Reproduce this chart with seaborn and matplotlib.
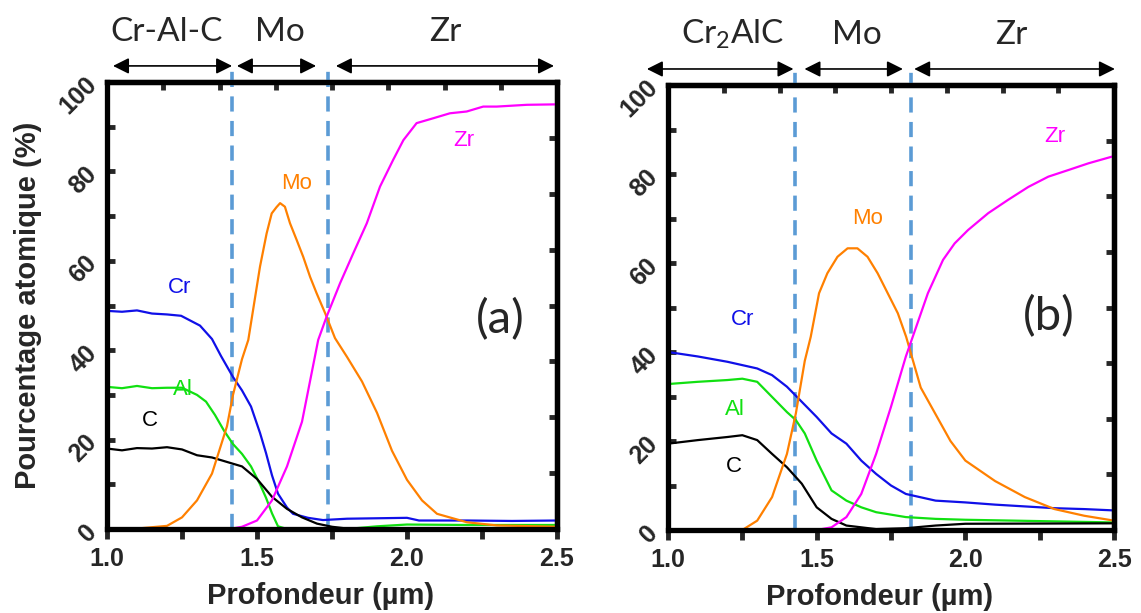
import numpy as np
import pandas as pd
import matplotlib.pyplot as plt
import seaborn as sns

# ---- panel (a) : Cr-Al-C / Mo / Zr ----
a_cr_x = [1.0, 1.05, 1.1, 1.15, 1.2, 1.247, 1.31, 1.35, 1.38, 1.42, 1.45, 1.48, 1.51, 1.53, 1.55, 1.57, 1.6, 1.62, 1.67, 1.72, 1.8, 1.9, 2.0, 2.04, 2.2, 2.35, 2.5]
a_cr_y = [48.8, 48.6, 48.9, 48.2, 48.0, 47.7, 45.5, 42.5, 38.7, 34.0, 31.0, 27.4, 21.5, 17.0, 12.0, 7.9, 4.8, 3.4, 2.5, 2.0, 2.3, 2.4, 2.5, 1.9, 1.9, 1.8, 1.9]
a_al_x = [1.0, 1.05, 1.1, 1.15, 1.2, 1.25, 1.3, 1.33, 1.36, 1.39, 1.42, 1.45, 1.48, 1.51, 1.53, 1.55, 1.57, 1.6, 1.8, 1.9, 2.0, 2.2, 2.5]
a_al_y = [31.8, 31.5, 32.0, 31.5, 31.6, 31.6, 30.0, 28.5, 25.5, 22.0, 19.0, 16.8, 14.0, 10.0, 7.0, 3.5, 0.6, 0.0, 0.0, 0.6, 1.0, 0.9, 0.9]
a_c_x = [1.0, 1.05, 1.1, 1.15, 1.2, 1.25, 1.3, 1.35, 1.4, 1.45, 1.5, 1.55, 1.6, 1.65, 1.7, 1.75, 1.8, 2.0, 2.5]
a_c_y = [18.0, 17.6, 18.1, 18.0, 18.3, 17.8, 16.5, 16.0, 15.0, 14.0, 11.2, 7.2, 4.5, 2.6, 1.2, 0.5, 0.1, 0.1, 0.2]
a_mo_x = [1.0, 1.1, 1.2, 1.25, 1.3, 1.35, 1.4, 1.42, 1.45, 1.471, 1.51, 1.532, 1.549, 1.565, 1.577, 1.593, 1.61, 1.632, 1.654, 1.677, 1.699, 1.727, 1.76, 1.8, 1.85, 1.9, 1.95, 2.0, 2.05, 2.1, 2.2, 2.3, 2.5]
a_mo_y = [0.0, 0.1, 0.7, 2.6, 6.4, 12.4, 23.0, 30.0, 38.0, 42.3, 58.7, 66.1, 70.6, 72.0, 72.9, 72.1, 68.4, 64.7, 60.9, 56.4, 52.7, 48.3, 42.7, 38.5, 33.0, 26.0, 17.5, 11.0, 6.4, 3.4, 1.5, 0.8, 0.5]
a_zr_x = [1.41, 1.45, 1.5, 1.55, 1.6, 1.65, 1.704, 1.732, 1.777, 1.821, 1.866, 1.91, 1.954, 1.988, 2.032, 2.088, 2.143, 2.199, 2.254, 2.299, 2.4, 2.5]
a_zr_y = [0.0, 0.5, 1.9, 6.4, 14.0, 24.0, 42.3, 47.5, 55.0, 61.7, 68.4, 76.6, 82.6, 87.0, 90.8, 91.9, 93.0, 93.4, 94.5, 94.5, 94.9, 95.0]

# ---- panel (b) : Cr2AlC / Mo / Zr ----
b_cr_x = [1.0, 1.1, 1.2, 1.3, 1.35, 1.4, 1.45, 1.5, 1.55, 1.6, 1.65, 1.7, 1.75, 1.8, 1.9, 2.0, 2.1, 2.2, 2.3, 2.4, 2.5]
b_cr_y = [40.0, 39.0, 37.8, 36.3, 34.8, 32.2, 28.8, 25.4, 21.7, 19.4, 15.6, 12.6, 10.0, 8.1, 6.6, 6.2, 5.7, 5.3, 4.9, 4.7, 4.4]
b_al_x = [1.0, 1.1, 1.2, 1.25, 1.3, 1.35, 1.4, 1.43, 1.46, 1.5, 1.55, 1.6, 1.65, 1.7, 1.8, 1.9, 2.0, 2.5]
b_al_y = [32.8, 33.3, 33.7, 34.0, 33.3, 29.9, 26.5, 24.7, 21.7, 15.6, 8.9, 6.6, 5.1, 4.0, 2.9, 2.5, 2.3, 1.7]
b_c_x = [1.0, 1.1, 1.2, 1.25, 1.3, 1.35, 1.4, 1.45, 1.5, 1.55, 1.6, 1.7, 1.8, 1.9, 2.0, 2.5]
b_c_y = [19.4, 20.2, 20.9, 21.3, 20.2, 17.1, 14.1, 10.4, 5.1, 2.5, 1.0, 0.2, 0.4, 1.0, 1.4, 1.5]
b_mo_x = [1.0, 1.25, 1.3, 1.35, 1.4, 1.43, 1.46, 1.48, 1.508, 1.536, 1.57, 1.604, 1.637, 1.671, 1.705, 1.739, 1.773, 1.801, 1.85, 1.9, 1.95, 2.0, 2.1, 2.2, 2.3, 2.4, 2.5]
b_mo_y = [0.0, 0.0, 2.1, 7.4, 17.1, 26.2, 38.0, 43.4, 53.2, 57.7, 61.4, 63.3, 63.3, 61.4, 57.7, 53.2, 48.7, 43.4, 32.0, 26.0, 20.0, 15.6, 11.0, 7.4, 4.7, 3.2, 2.1]
b_zr_x = [1.5, 1.55, 1.6, 1.65, 1.7, 1.75, 1.8, 1.823, 1.874, 1.925, 1.964, 2.009, 2.077, 2.144, 2.212, 2.279, 2.347, 2.414, 2.493]
b_zr_y = [0.0, 0.6, 2.9, 8.1, 17.1, 27.7, 39.0, 43.4, 53.2, 60.7, 64.4, 67.4, 71.2, 74.2, 77.1, 79.4, 80.9, 82.4, 83.9]

elements = ['Cr', 'Al', 'C', 'Mo', 'Zr']
couleurs = {'Cr': '#1010E8', 'Al': '#11E011', 'C': '#000000', 'Mo': '#FF8000', 'Zr': '#FF00FF'}

panneaux = [
    dict(nom='(a)',
         series={'Cr': (a_cr_x, a_cr_y), 'Al': (a_al_x, a_al_y), 'C': (a_c_x, a_c_y),
                 'Mo': (a_mo_x, a_mo_y), 'Zr': (a_zr_x, a_zr_y)},
         interfaces=[1.416, 1.735],
         couches=['Cr-Al-C', 'Mo', 'Zr'],
         couches_x=[1.2, 1.577, 2.127],
         fleches=[(1.02, 1.417), (1.433, 1.697), (1.763, 2.49)],
         etiquettes={'Cr': (1.243, 54.1), 'Al': (1.253, 31.3), 'C': (1.143, 24.2),
                     'Mo': (1.632, 77.3), 'Zr': (2.188, 87.0)},
         lettre_pos=(2.31, 46.8),
         rect=[107/1141, 1-529/613, 450/1141, 447/613]),
    dict(nom='(b)',
         series={'Cr': (b_cr_x, b_cr_y), 'Al': (b_al_x, b_al_y), 'C': (b_c_x, b_c_y),
                 'Mo': (b_mo_x, b_mo_y), 'Zr': (b_zr_x, b_zr_y)},
         interfaces=[1.427, 1.818],
         couches=['Cr$_2$AlC', 'Mo', 'Zr'],
         couches_x=[1.216, 1.635, 2.155],
         fleches=[(0.929, 1.422), (1.459, 1.79), (1.828, 2.503)],
         etiquettes={'Cr': (1.25, 47.2), 'Al': (1.226, 27.0), 'C': (1.22, 14.2),
                     'Mo': (1.671, 70.0), 'Zr': (2.30, 88.4)},
         lettre_pos=(2.28, 48.0),
         rect=[668/1141, 1-530/613, 446/1141, 445/613]),
]

sns.set_style('white')
plt.rcParams['font.family'] = ['Liberation Sans', 'DejaVu Sans']
plt.rcParams['mathtext.fontset'] = 'custom'
plt.rcParams['mathtext.rm'] = 'Lato'
plt.rcParams['mathtext.default'] = 'regular'

fig = plt.figure(figsize=(11.41, 6.13), dpi=100)

for p in panneaux:
    ax = fig.add_axes(p['rect'])
    for el in elements:
        xs, ys = p['series'][el]
        df = pd.DataFrame({'x': xs, 'y': ys})
        sns.lineplot(data=df, x='x', y='y', ax=ax, color=couleurs[el], lw=1.6, sort=False)
        tx, ty = p['etiquettes'][el]
        ax.text(tx, ty, el, color=couleurs[el], fontsize=16, ha='center', va='center')

    ax.set_xlim(1.0, 2.5)
    ax.set_ylim(0, 100)
    ax.set_xticks([1.0, 1.5, 2.0, 2.5])
    ax.set_xticklabels(['1.0', '1.5', '2.0', '2.5'])
    ax.set_xticks([1.25, 1.75, 2.25], minor=True)
    ax.set_yticks([0, 20, 40, 60, 80, 100])
    ax.set_yticks([10, 30, 50, 70, 90], minor=True)
    ax.tick_params(axis='x', which='both', direction='out', length=7, width=3.5,
                   labelsize=18, pad=6, bottom=True)
    ax.tick_params(axis='y', which='both', direction='in', length=6, width=3.5,
                   labelsize=18, labelrotation=45, pad=4, left=True)
    for lab in ax.get_xticklabels() + ax.get_yticklabels():
        lab.set_fontweight('bold')
    for s in ax.spines.values():
        s.set_linewidth(3.8)
        s.set_color('black')

    # ticks haut et droite (axe secondaire d'Excel)
    sec_x = ax.secondary_xaxis('top')
    sec_x.set_xticks(np.linspace(1.0, 2.5, 9)[1:-1])
    sec_x.tick_params(direction='in', length=6, width=3.5, labeltop=False)
    sec_x.spines['top'].set_linewidth(3.8)
    sec_y = ax.secondary_yaxis('right')
    sec_y.set_yticks(np.linspace(0, 100, 9)[1:-1])
    sec_y.tick_params(direction='in', length=6, width=3.5, labelright=False)
    sec_y.spines['right'].set_linewidth(3.8)

    ax.set_xlabel('Profondeur (µm)', fontsize=21, fontweight='bold')
    ax.xaxis.set_label_coords(0.474, -0.118)
    if p['nom'] == '(a)':
        ax.set_ylabel('Pourcentage atomique (%)', fontsize=21, fontweight='bold')
        ax.yaxis.set_label_coords(-0.145, 0.5)
    else:
        ax.set_ylabel('')

    # interfaces
    for xi in p['interfaces']:
        ax.axvline(xi, ymin=0, ymax=1.036, color='#5B9BD5', lw=2.6,
                   dashes=(4.2, 2.6), clip_on=False, zorder=1)

    # fleches et noms des couches
    tr = ax.get_xaxis_transform()
    for (x0, x1) in p['fleches']:
        ax.annotate('', xy=(x1, 1.036), xytext=(x0, 1.036), xycoords=tr, textcoords=tr,
                    annotation_clip=False,
                    arrowprops=dict(arrowstyle='<|-|>', color='black', lw=1.2,
                                    mutation_scale=24, shrinkA=0, shrinkB=0))
    for nom, xc in zip(p['couches'], p['couches_x']):
        ax.text(xc, 1.092, nom, transform=tr, fontsize=24, family=['Lato', 'DejaVu Sans'],
                ha='center', va='baseline')

    lx, ly = p['lettre_pos']
    ax.text(lx, ly, p['nom'], fontsize=34, family=['Lato', 'DejaVu Sans'],
            ha='center', va='center')

plt.savefig('out.png', dpi=100)
print("Figure creee")
